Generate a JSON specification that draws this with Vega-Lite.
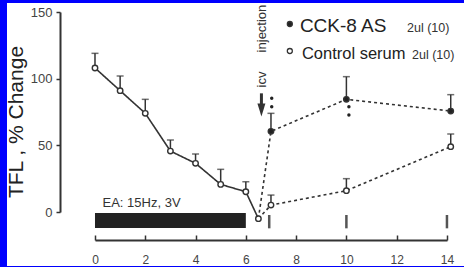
{
  "$schema": "https://vega.github.io/schema/vega-lite/v6.json",
  "width": 457,
  "height": 263,
  "autosize": {"type": "none"},
  "padding": {"left": 7, "top": 3, "right": 0, "bottom": 1},
  "background": "#0000fe",
  "config": {
    "view": {"fill": "white", "stroke": null},
    "font": "Liberation Sans",
    "axis": {"grid": false}
  },
  "datasets": {
    "series": [
      {"series": "EA", "x": 0, "y": 108, "err": 119},
      {"series": "EA", "x": 1, "y": 91, "err": 102},
      {"series": "EA", "x": 2, "y": 74, "err": 84.5},
      {"series": "EA", "x": 3, "y": 45.7, "err": 54},
      {"series": "EA", "x": 4, "y": 36.5, "err": 43.5},
      {"series": "EA", "x": 5, "y": 20.7, "err": 32},
      {"series": "EA", "x": 6, "y": 15.2, "err": 22.7},
      {"series": "EA", "x": 6.5, "y": -5, "err": null},
      {"series": "CCK-8 AS", "x": 6.5, "y": -5, "err": null},
      {"series": "CCK-8 AS", "x": 7, "y": 60.5, "err": 74},
      {"series": "CCK-8 AS", "x": 10, "y": 84.5, "err": 101.5},
      {"series": "CCK-8 AS", "x": 14.15, "y": 75.7, "err": 88},
      {"series": "Control serum", "x": 6.5, "y": -5, "err": null},
      {"series": "Control serum", "x": 7, "y": 5.2, "err": 12.7},
      {"series": "Control serum", "x": 10, "y": 16, "err": 25},
      {"series": "Control serum", "x": 14.15, "y": 49, "err": 58.5}
    ],
    "ea": [{"x": 0, "x2": 6, "y": -0.75, "y2": -12}],
    "samples": [
      {"x": 6.93, "y": -2.25, "y2": -12.25},
      {"x": 10, "y": -2.25, "y2": -12.25},
      {"x": 14, "y": -2.25, "y2": -12.25}
    ],
    "sig": [
      {"x": 7.03, "y": 85.3},
      {"x": 7.03, "y": 79},
      {"x": 10.1, "y": 79},
      {"x": 10.1, "y": 72.75}
    ],
    "arrow": [{"x": 6.62, "y": 89, "y2": 78}],
    "arrowHead": [{"x": 6.62, "y": 76.5}],
    "icv": [
      {"x": 6.64, "y": 99.4, "label": "icv"},
      {"x": 6.64, "y": 137.6, "label": "injection"}
    ],
    "legendCCK": [{"x": 8.15, "y": 135, "label": "CCK-8 AS"}],
    "legendCtrl": [{"x": 8.23, "y": 114.75, "label": "Control serum"}],
    "legendSmall": [
      {"x": 12.41, "y": 135, "label": "2ul (10)"},
      {"x": 12.61, "y": 114.75, "label": "2ul (10)"}
    ],
    "legendSym": [
      {"x": 7.75, "y": 141, "series": "CCK-8 AS"},
      {"x": 7.75, "y": 120.75, "series": "Control serum"}
    ],
    "eaText": [{"x": 0.3, "y": 3.75, "label": "EA: 15Hz, 3V"}]
  },
  "encoding": {
    "x": {
      "field": "x",
      "type": "quantitative",
      "title": null,
      "scale": {"domain": [-3.5, 14.678], "nice": false, "zero": false},
      "axis": {
        "values": [0, 2, 4, 6, 8, 10, 12, 14],
        "offset": -26,
        "domainDash": [0, 88, 352, 200],
        "domainWidth": 2,
        "domainColor": "#333",
        "tickSize": -5,
        "tickWidth": 1.5,
        "tickColor": "#333",
        "labelFontSize": 12,
        "labelColor": "#444",
        "labelPadding": 19,
        "labelFlush": false
      }
    },
    "y": {
      "field": "y",
      "type": "quantitative",
      "title": "TFL , % Change",
      "scale": {"domain": [-40.5, 156.75], "nice": false, "zero": false},
      "axis": {
        "values": [0, 50, 100, 150],
        "offset": -53,
        "domainDash": [0, 54, 200, 100],
        "domainWidth": 2,
        "domainColor": "#333",
        "tickSize": 4,
        "tickWidth": 1.5,
        "tickColor": "#333",
        "labelFontSize": 13,
        "labelColor": "#444",
        "labelPadding": 4,
        "labelFlush": false,
        "titleFontSize": 21,
        "titleFontWeight": "normal",
        "titleColor": "#222",
        "titlePadding": 4,
        "titleY": 118.5
      }
    }
  },
  "layer": [
    {
      "data": {"name": "ea"},
      "mark": {"type": "rect", "color": "#222"},
      "encoding": {"x2": {"field": "x2"}, "y2": {"field": "y2"}}
    },
    {
      "data": {"name": "samples"},
      "mark": {"type": "rule", "color": "#555", "strokeWidth": 2.5},
      "encoding": {"y2": {"field": "y2"}}
    },
    {
      "data": {"name": "series"},
      "mark": {"type": "line", "color": "#333", "strokeWidth": 1.6},
      "encoding": {
        "detail": {"field": "series"},
        "strokeDash": {
          "field": "series",
          "scale": {"domain": ["EA", "CCK-8 AS", "Control serum"], "range": [[1, 0], [3, 3], [3, 3]]},
          "legend": null
        }
      }
    },
    {
      "data": {"name": "series"},
      "transform": [{"filter": "datum.err != null"}],
      "mark": {"type": "rule", "color": "#333", "strokeWidth": 1.5},
      "encoding": {"y2": {"field": "err"}}
    },
    {
      "data": {"name": "series"},
      "transform": [{"filter": "datum.err != null"}],
      "mark": {"type": "tick", "orient": "horizontal", "size": 7, "thickness": 1.5, "color": "#333"},
      "encoding": {
        "y": {
          "field": "err",
          "type": "quantitative",
          "title": "TFL , % Change",
          "scale": {"domain": [-40.5, 156.75], "nice": false, "zero": false}
        }
      }
    },
    {
      "data": {"name": "series"},
      "transform": [{"filter": "!(datum.series === 'CCK-8 AS' && datum.x === 6.5) && !(datum.series === 'Control serum' && datum.x === 6.5)"}],
      "mark": {"type": "point", "shape": "circle", "size": 30, "strokeWidth": 1.4, "stroke": "#333", "opacity": 1},
      "encoding": {
        "fill": {
          "field": "series",
          "scale": {"domain": ["EA", "CCK-8 AS", "Control serum"], "range": ["white", "#222", "white"]},
          "legend": null
        }
      }
    },
    {
      "data": {"name": "sig"},
      "mark": {"type": "circle", "size": 12, "color": "#222", "opacity": 1}
    },
    {
      "data": {"name": "arrow"},
      "mark": {"type": "rule", "color": "#333", "strokeWidth": 3},
      "encoding": {"y2": {"field": "y2"}}
    },
    {
      "data": {"name": "arrowHead"},
      "mark": {"type": "point", "shape": "M-1,-1.6L1,-1.6L0,1.6Z", "size": 64, "filled": true, "color": "#333", "opacity": 1}
    },
    {
      "data": {"name": "icv"},
      "mark": {"type": "text", "angle": 270, "align": "center", "baseline": "middle", "fontSize": 13, "color": "#333"},
      "encoding": {"text": {"field": "label"}}
    },
    {
      "data": {"name": "legendCCK"},
      "mark": {"type": "text", "align": "left", "baseline": "alphabetic", "fontSize": 19, "color": "#222"},
      "encoding": {"text": {"field": "label"}}
    },
    {
      "data": {"name": "legendCtrl"},
      "mark": {"type": "text", "align": "left", "baseline": "alphabetic", "fontSize": 16.5, "color": "#222"},
      "encoding": {"text": {"field": "label"}}
    },
    {
      "data": {"name": "legendSmall"},
      "mark": {"type": "text", "align": "left", "baseline": "alphabetic", "fontSize": 12.5, "color": "#333"},
      "encoding": {"text": {"field": "label"}}
    },
    {
      "data": {"name": "legendSym"},
      "mark": {"type": "point", "shape": "circle", "size": 25, "strokeWidth": 1.3, "stroke": "#333", "opacity": 1},
      "encoding": {
        "fill": {
          "field": "series",
          "scale": {"domain": ["EA", "CCK-8 AS", "Control serum"], "range": ["white", "#222", "white"]},
          "legend": null
        }
      }
    },
    {
      "data": {"name": "eaText"},
      "mark": {"type": "text", "align": "left", "baseline": "alphabetic", "fontSize": 13, "color": "#333"},
      "encoding": {"text": {"field": "label"}}
    }
  ]
}
